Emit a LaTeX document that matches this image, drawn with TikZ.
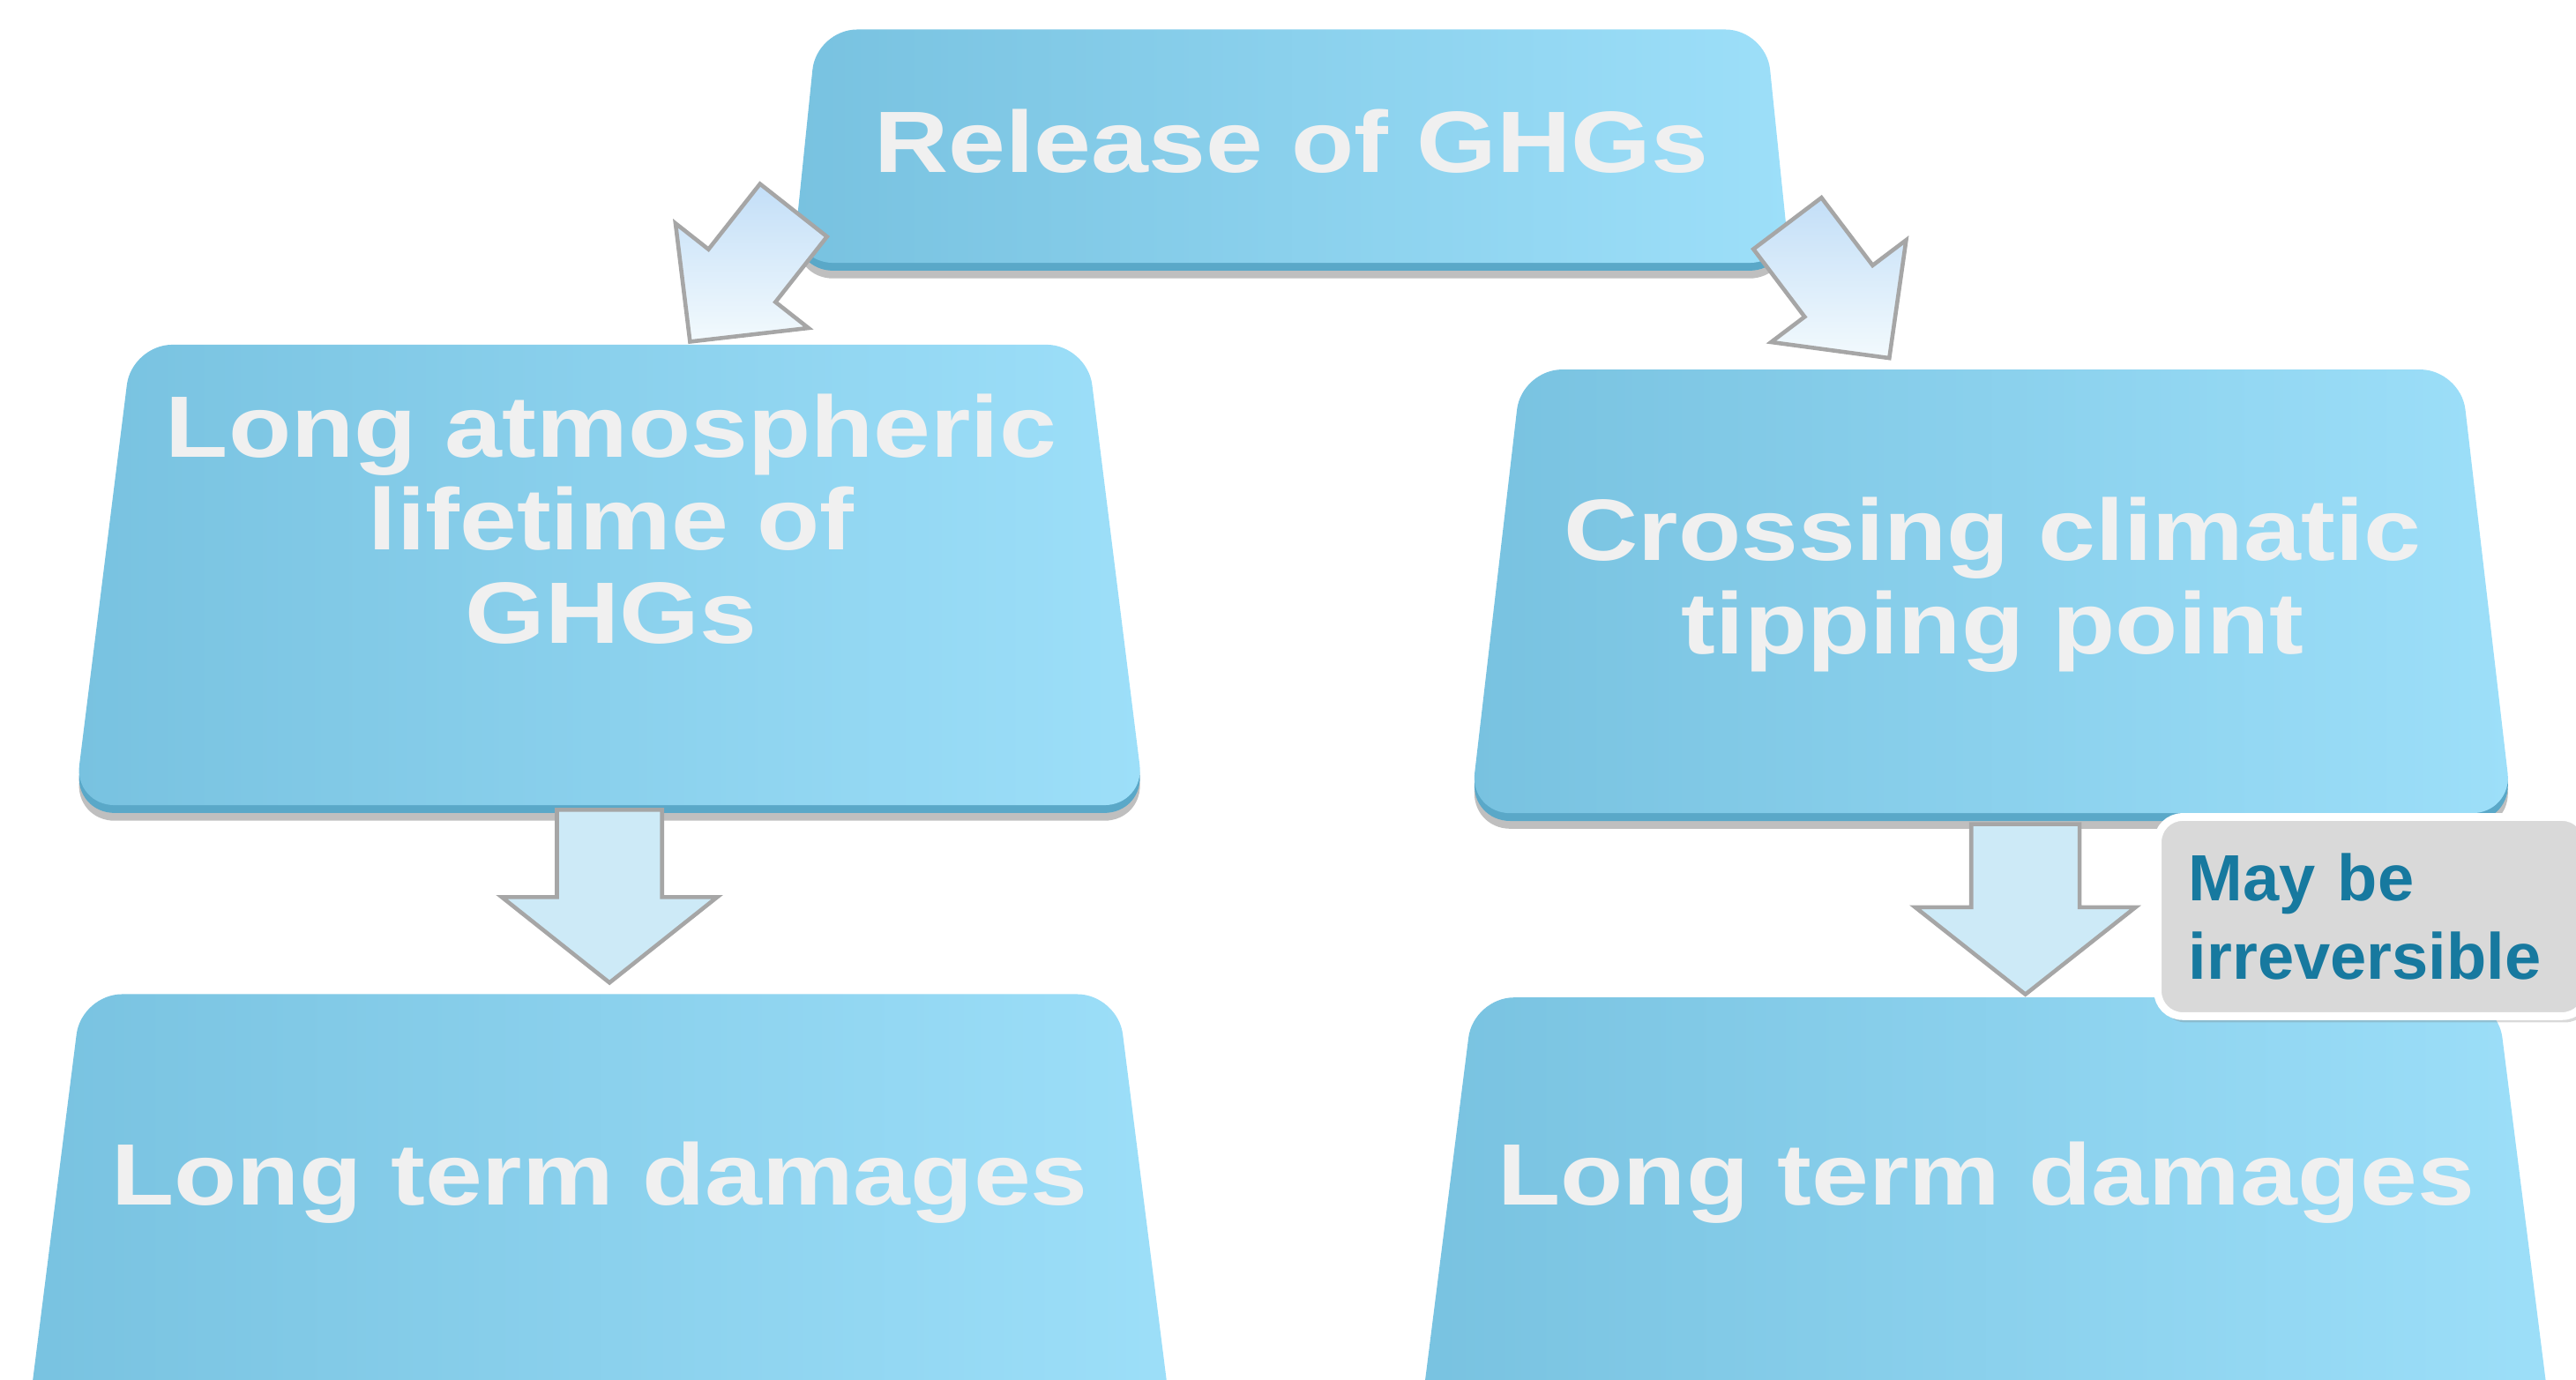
\documentclass[tikz,border=0pt]{standalone}
\usepackage{fontspec}
\setmainfont{Liberation Sans}
\newfontfamily\boxface[FakeStretch=1.18]{Liberation Sans}
\usetikzlibrary{shadows,calc}

\definecolor{boxdark}{HTML}{78C2E0}
\definecolor{boxlight}{HTML}{9DDFF9}
\definecolor{boxedge}{HTML}{5AA8C8}
\definecolor{boxtextc}{HTML}{F0F0F0}
\definecolor{arrowfill}{HTML}{CDEAF7}
\definecolor{arrowline}{HTML}{A6A6A6}
\definecolor{notefill}{HTML}{D9D9D9}
\definecolor{notetext}{HTML}{17799F}

% slanted box face on a frame node: node name, inset of the top corners
\newcommand\trapbox[2]{%
	\path[boxfill] ([xshift=#2]#1.north west) -- ([xshift=-#2]#1.north east)
		-- (#1.south east) -- (#1.south west) -- cycle;}

% block arrow: tail, tip, shaft half width, head half width, head length
\newcommand\blockarrow[6][]{%
	\coordinate (#2h) at ($(#3)!#6!(#2)$);
	\draw[blockarrow,#1] ($(#2)!#4!90:(#3)$) -- ($(#2h)!#4!90:(#3)$) -- ($(#2h)!#5!90:(#3)$)
		-- (#3) -- ($(#2h)!#5!-90:(#3)$) -- ($(#2h)!#4!-90:(#3)$) -- ($(#2)!#4!-90:(#3)$) -- cycle;}

\begin{document}
\begin{tikzpicture}[x=0.528pt,y=-0.528pt,
	frame/.style={inner sep=0pt, outer sep=0pt},
	boxfill/.style={rounded corners=13pt, left color=boxdark, right color=boxlight,
		general shadow={shadow yshift=-5pt, fill=black, opacity=.25},
		general shadow={shadow yshift=-2.5pt, fill=boxedge}},
	boxtext/.style={text=boxtextc, align=center,
		font=\boxface\bfseries\fontsize{28}{30}\selectfont},
	blockarrow/.style={draw=arrowline, line width=1.3pt, line join=miter, fill=arrowfill},
	diag/.style={top color=arrowfill!95!blue, bottom color=arrowfill!25},
	note/.style={draw=white, line width=2.5pt, fill=notefill, rounded corners=8pt,
		text=notetext, font=\bfseries\fontsize{21}{25}\selectfont, align=left,
		text width=118pt, inner xsep=10pt, minimum height=64pt,
		drop shadow={shadow xshift=1pt, shadow yshift=-2pt, opacity=.3}}]
	\useasboundingbox (0,0) rectangle (1568,840);
	\clip (0,0) rectangle (1568,840);

	\node[frame, minimum width=320.5pt, minimum height=75pt] (release) at (786,89) {};
	\trapbox{release}{7.7pt}
	\node[boxtext] (releasetext) at (786,86) {Release of GHGs};

	\node[frame, minimum width=344pt, minimum height=148pt] (lifetime) at (371,350) {};
	\trapbox{lifetime}{18.5pt}
	\node[boxtext] (lifetimetext) at (372,316) {Long atmospheric\\lifetime of\\GHGs};

	\node[frame, minimum width=335pt, minimum height=142.6pt] (tipping) at (1212,360) {};
	\trapbox{tipping}{16.6pt}
	\node[boxtext] (tippingtext) at (1213,356) {Crossing climatic\\tipping point};

	\node[frame, minimum width=377pt, minimum height=174pt] (damageleft) at (365,770) {};
	\trapbox{damageleft}{22pt}
	\node[boxtext] (damagelefttext) at (365,720) {Long term damages};

	\node[frame, minimum width=373pt, minimum height=174pt] (damageright) at (1208.5,772) {};
	\trapbox{damageright}{22pt}
	\node[boxtext] (damagerighttext) at (1209,720) {Long term damages};

	% arrows between the boxes
	\coordinate (ltail) at (483,128);
	\coordinate (ltip) at (420,208);
	\coordinate (rtail) at (1088,136);
	\coordinate (rtip) at (1150,218);
	\blockarrow[diag]{ltail}{ltip}{13.7pt}{27.2pt}{27pt}
	\blockarrow[diag]{rtail}{rtip}{13.7pt}{27.2pt}{27pt}

	\coordinate (lvtail) at ([yshift=-1.5pt]lifetime.south);
	\coordinate (lvtip) at ([yshift=3.7pt]lvtail |- damageleft.north);
	\coordinate (rvtail) at ([xshift=11pt,yshift=-3.5pt]tipping.south);
	\coordinate (rvtip) at ([yshift=1pt]rvtail |- damageright.north);
	\blockarrow{lvtail}{lvtip}{16.9pt}{34.6pt}{27.5pt}
	\blockarrow{rvtail}{rvtip}{17.4pt}{35.4pt}{28pt}

	\node[note, anchor=north west] (irreversible) at (1311,495) {May be\\irreversible};
\end{tikzpicture}
\end{document}
